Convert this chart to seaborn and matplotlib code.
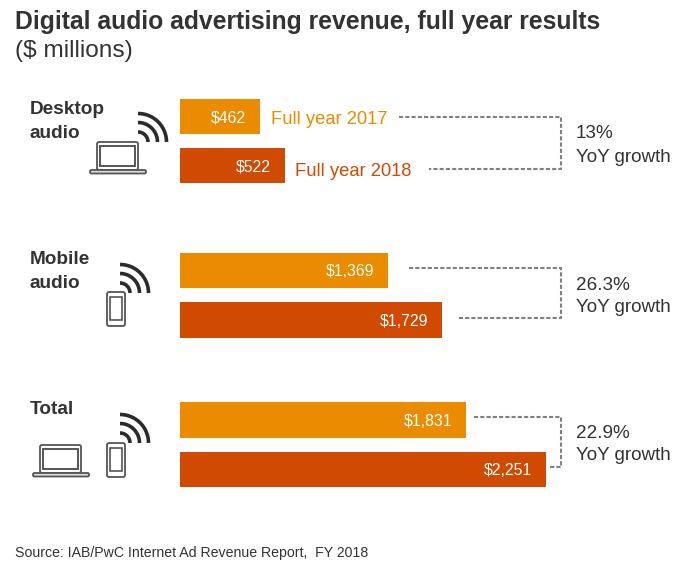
import numpy as np
import pandas as pd
import seaborn as sns
import matplotlib.pyplot as plt
from matplotlib.patches import FancyBboxPatch, Rectangle

sns.set_theme(style="white")
plt.rcParams['font.family'] = ['Liberation Sans', 'DejaVu Sans']

# data
groups = ["Desktop audio", "Mobile audio", "Total"]
periods = ["Full year 2017", "Full year 2018"]
revenue_2017 = [462, 1369, 1831]
revenue_2018 = [522, 1729, 2251]
growth = ["13%", "26.3%", "22.9%"]

ORANGE = "#EB8C00"
RUST = "#D04A02"
GREY = "#808080"
INK = "#333333"

# the source bars are not drawn to scale, so the x axis is a piecewise scale
scale_values = [0, 462, 522, 1369, 1729, 1831, 2251, 2600]
scale_px = [0, 79.5, 104.5, 208, 262, 286, 366, 420]


def forward(v):
    return np.interp(v, scale_values, scale_px)


def inverse(p):
    return np.interp(p, scale_px, scale_values)


W, H = 700, 568
fig = plt.figure(figsize=(W / 100, H / 100), dpi=100)

# overlay in pixel coordinates for text, connectors and icons
over = fig.add_axes([0, 0, 1, 1], zorder=3)
over.set_xlim(0, W)
over.set_ylim(H, 0)
over.axis("off")
over.patch.set_alpha(0)

centers = [141.0, 295.25, 444.75]
spacing = 49.5
bar_left = 180

for i, group in enumerate(groups):
    df = pd.DataFrame({"period": periods, "revenue": [revenue_2017[i], revenue_2018[i]]})
    top = centers[i] - spacing
    ax = fig.add_axes([bar_left / W, 1 - (top + 2 * spacing) / H, 420 / W, 2 * spacing / H])
    sns.barplot(data=df, y="period", x="revenue", hue="period", palette=[ORANGE, RUST],
                width=0.71, dodge=False, legend=False, ax=ax, saturation=1, linewidth=0)
    ax.set_xscale("function", functions=(forward, inverse))
    ax.set_xlim(0, 2600)
    ax.set_ylim(1.5, -0.5)
    ax.axis("off")
    for j, v in enumerate(df["revenue"]):
        ax.annotate(f"${v:,}", (v, j), xytext=(-10, -1), textcoords="offset points",
                    ha="right", va="center", color="white", fontsize=11.4)

# titles
over.text(15, 22, "Digital audio advertising revenue, full year results", fontsize=17.8,
          fontweight="bold", color=INK, va="center")
over.text(15, 51, "($ millions)", fontsize=17.6, color=INK, va="center")
over.text(15, 552.5, "Source: IAB/PwC Internet Ad Revenue Report,  FY 2018", fontsize=10.2,
          color=INK, va="center")

# group labels
for x, y, s in [(30, 110, "Desktop"), (30, 133, "audio"), (30, 259, "Mobile"),
                (30, 283, "audio"), (30, 410, "Total")]:
    over.text(x, y, s, fontsize=13.7, fontweight="bold", color=INK, va="center")

over.text(271, 119, periods[0], fontsize=13.2, color=ORANGE, va="center")
over.text(295, 171, periods[1], fontsize=13.2, color=RUST, va="center")

# connectors and growth text
connectors = [(399, 117, 429, 169), (409, 268, 458, 318), (474, 417, 550, 467)]
for (x0, y0, x1, y1), pct, y_pct, y_yoy in zip(connectors, growth, [134, 286, 434], [157, 308, 456]):
    over.plot([x0, 561, 561, x1], [y0, y0, y1, y1], color=GREY, lw=1.5, ls=(0, (2.0, 1.0)))
    over.text(576, y_pct, pct, fontsize=13.6, color=INK, va="center")
    over.text(576, y_yoy, "YoY growth", fontsize=13.6, color=INK, va="center")


def wifi(cx, cy):
    t = np.linspace(0, np.pi / 2, 30)
    for r in [10, 19.5, 28.5]:
        over.plot(cx + r * np.sin(t), cy - r * np.cos(t), color="#2b2b2b", lw=2.6, solid_capstyle="butt")


def laptop(x, y):
    c = "#555555"
    over.add_patch(FancyBboxPatch((x + 1, y + 1), 41, 28, boxstyle="round,pad=0,rounding_size=2",
                                  fc="white", ec=c, lw=1.3))
    over.add_patch(Rectangle((x + 4, y + 5), 35, 20, fc="white", ec=c, lw=1.4))
    over.add_patch(FancyBboxPatch((x - 6, y + 29), 56, 3.5, boxstyle="round,pad=0,rounding_size=1.5",
                                  fc="#dddddd", ec=c, lw=1.3))


def phone(x, y):
    c = "#555555"
    over.add_patch(FancyBboxPatch((x, y), 18, 34, boxstyle="round,pad=0,rounding_size=2",
                                  fc="white", ec=c, lw=1.3))
    over.add_patch(Rectangle((x + 3, y + 5), 12, 23, fc="white", ec=c, lw=1.2))


wifi(138, 142)
laptop(96, 141)
wifi(120, 293)
phone(107, 292)
wifi(120, 443)
laptop(39, 444)
phone(107, 443)

fig.savefig("out.png", dpi=100)
